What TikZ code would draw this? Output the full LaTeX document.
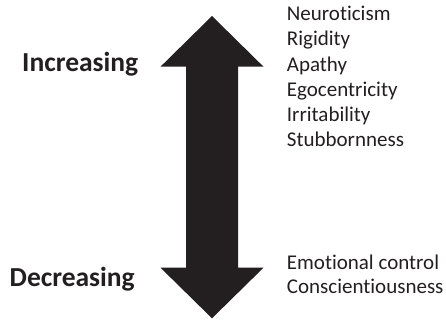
\documentclass[tikz,border=0pt]{standalone}
\usepackage{fontspec}
\setmainfont{Carlito}[RawFeature=-liga, RawFeature=-clig, RawFeature=-calt, RawFeature=-dlig]
\definecolor{InkBlack}{RGB}{35,31,32}
\usetikzlibrary{positioning}

\begin{document}
\begin{tikzpicture}[x=1pt, y=1pt,
	lbl/.style={font=\fontsize{27.5}{32}\selectfont\bfseries, text=InkBlack, inner sep=0pt, anchor=base west},
	trait/.style={font=\fontsize{21}{25}\selectfont, text=InkBlack, inner sep=0pt, anchor=base west}]
	\useasboundingbox (0,0) rectangle (446,320);
	% double arrow
	\fill[InkBlack] (212,304) -- (263.5,253.3) -- (238,253.3) -- (238,52.3) -- (263.5,52.3)
		-- (212,1.7) -- (160.5,52.3) -- (186,52.3) -- (186,253.3) -- (160.5,253.3) -- cycle;
	% left labels
	\node[lbl] (inc) at (22,248.3) {Increasing};
	\node[lbl] (dec) at (9.5,33) {Decreasing};
	% traits going up
	\foreach \t [count=\i] in {Neuroticism, Rigidity, Apathy, Egocentricity, Irritability, Stubbornness}
		\node[trait] (up\i) at (286.7,{299.3-25.2*(\i-1)}) {\t};
	% traits going down
	\node[trait] (dn1) at (286.7,50) {Emotional control};
	\node[trait] (dn2) at (286.7,26.7) {Conscientiousness};
\end{tikzpicture}
\end{document}
